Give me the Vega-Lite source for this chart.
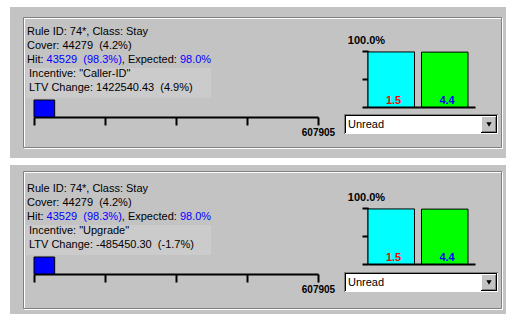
{
  "$schema": "https://vega.github.io/schema/vega-lite/v6.json",
  "background": "#ffffff",
  "padding": {"left": 10, "top": 7, "right": 0, "bottom": 0},
  "spacing": 7,
  "config": {
    "view": {"stroke": null, "fill": "#c4c3c4"},
    "text": {"font": "Liberation Sans"},
    "axis": {"grid": false, "title": null, "labelFont": "Liberation Sans", "labelColor": "#000000", "domainColor": "#000000", "tickColor": "#000000", "labelFlush": false, "labelOverlap": false, "labelBound": false}
  },
  "vconcat": [
    {
      "width": 496,
      "height": 151,
      "resolve": {"scale": {"x": "independent", "y": "independent", "color": "independent"}, "axis": {"x": "independent", "y": "independent"}},
      "layer": [
        {"data": {"values": [{}]}, "mark": {"type": "rect", "fillOpacity": 0, "stroke": "#ffffff", "strokeWidth": 1}, "encoding": {"x": {"value": 14.5}, "y": {"value": 11.5}, "x2": {"value": 492.5}, "y2": {"value": 141.5}}},
        {"data": {"values": [{}]}, "mark": {"type": "rect", "fillOpacity": 0, "stroke": "#808080", "strokeWidth": 1}, "encoding": {"x": {"value": 13.5}, "y": {"value": 10.5}, "x2": {"value": 491.5}, "y2": {"value": 140.5}}},
        {"data": {"values": [{}]}, "mark": {"type": "rect", "fill": "#cccbcc"}, "encoding": {"x": {"value": 16}, "y": {"value": 61}, "x2": {"value": 201}, "y2": {"value": 91}}},
        {
          "data": {"values": [{"line": 1, "text": "Rule ID: 74*, Class: Stay"}, {"line": 2, "text": "Cover: 44279\u00a0 (4.2%)"}, {"line": 3, "text": "Hit:"}]},
          "mark": {"type": "text", "align": "left", "baseline": "middle", "fontSize": 11, "color": "#000000"},
          "encoding": {"x": {"value": 17}, "y": {"field": "line", "type": "quantitative", "scale": {"domain": [1, 5], "range": [25, 81]}, "axis": null}, "text": {"field": "text"}}
        },
        {
          "data": {"values": [{"line": 3, "text": "43529"}]},
          "mark": {"type": "text", "align": "left", "baseline": "middle", "fontSize": 11, "color": "#0000ff"},
          "encoding": {"x": {"value": 36.6}, "y": {"field": "line", "type": "quantitative", "scale": {"domain": [1, 5], "range": [25, 81]}, "axis": null}, "text": {"field": "text"}}
        },
        {
          "data": {"values": [{"line": 3, "text": "(98.3%)"}]},
          "mark": {"type": "text", "align": "left", "baseline": "middle", "fontSize": 11, "color": "#0000ff"},
          "encoding": {"x": {"value": 73.3}, "y": {"field": "line", "type": "quantitative", "scale": {"domain": [1, 5], "range": [25, 81]}, "axis": null}, "text": {"field": "text"}}
        },
        {
          "data": {"values": [{"line": 3, "text": ", Expected:"}]},
          "mark": {"type": "text", "align": "left", "baseline": "middle", "fontSize": 11, "color": "#000000"},
          "encoding": {"x": {"value": 111.8}, "y": {"field": "line", "type": "quantitative", "scale": {"domain": [1, 5], "range": [25, 81]}, "axis": null}, "text": {"field": "text"}}
        },
        {
          "data": {"values": [{"line": 3, "text": "98.0%"}]},
          "mark": {"type": "text", "align": "left", "baseline": "middle", "fontSize": 11, "color": "#0000ff"},
          "encoding": {"x": {"value": 169.9}, "y": {"field": "line", "type": "quantitative", "scale": {"domain": [1, 5], "range": [25, 81]}, "axis": null}, "text": {"field": "text"}}
        },
        {
          "data": {"values": [{"line": 4, "text": "Incentive: \"Caller-ID\""}, {"line": 5, "text": "LTV Change: 1422540.43\u00a0 (4.9%)"}]},
          "mark": {"type": "text", "align": "left", "baseline": "middle", "fontSize": 11, "color": "#000000"},
          "encoding": {"x": {"value": 19}, "y": {"field": "line", "type": "quantitative", "scale": {"domain": [1, 5], "range": [25, 81]}, "axis": null}, "text": {"field": "text"}}
        },
        {
          "data": {"values": [{"metric": "Cover", "value": 44279}]},
          "mark": {"type": "rect", "fill": "#0000ff", "stroke": "#000000", "strokeWidth": 1},
          "encoding": {
            "x": {"field": "value", "type": "quantitative", "scale": {"domain": [0, 607905], "range": [24, 308], "nice": false, "zero": true},
              "axis": {"orient": "bottom", "offset": -41, "values": [0, 151976.25, 303952.5, 455928.75, 607905], "domainWidth": 2, "tickWidth": 2, "tickSize": 8, "labelExpr": "datum.value == 607905 ? '607905' : ''", "labelFontSize": 10, "labelFontWeight": "bold", "labelPadding": 2, "labelAlign": "center"}},
            "x2": {"datum": 0},
            "y": {"value": 93},
            "y2": {"value": 110}
          }
        },
        {
          "data": {"values": [{"series": "Hit", "pct": 98.3, "label": "1.5"}, {"series": "Expected", "pct": 98.0, "label": "4.4"}]},
          "layer": [
            {
              "mark": {"type": "bar", "stroke": "#000000", "strokeWidth": 1},
              "encoding": {
                "x": {"field": "series", "type": "nominal", "sort": ["Hit", "Expected"], "scale": {"type": "band", "domain": ["Hit", "Expected"], "range": [358, 465], "paddingInner": 0.131, "paddingOuter": 0.0654, "align": 0},
                  "axis": {"orient": "bottom", "offset": -51, "ticks": false, "labels": false, "domainWidth": 2}},
                "y": {"field": "pct", "type": "quantitative", "scale": {"domain": [0, 100], "range": [100, 44], "nice": false},
                  "axis": {"orient": "left", "offset": -358, "values": [0, 25, 50, 75, 100], "domainWidth": 2, "tickWidth": 2, "tickSize": 6, "labelExpr": "datum.value == 100 ? '100.0%' : ''", "labelFontSize": 11, "labelFontWeight": "bold", "labelAlign": "center", "labelBaseline": "middle", "labelPadding": -4, "labelOffset": -11}},
                "fill": {"field": "series", "type": "nominal", "scale": {"domain": ["Hit", "Expected"], "range": ["#00ffff", "#00ff00"]}, "legend": null}
              }
            },
            {
              "mark": {"type": "text", "baseline": "bottom", "dy": -1, "fontSize": 11, "fontWeight": "bold"},
              "encoding": {
                "x": {"field": "series", "type": "nominal", "sort": ["Hit", "Expected"], "bandPosition": 0.55},
                "y": {"datum": 0, "type": "quantitative"},
                "text": {"field": "label"},
                "color": {"condition": {"test": "datum.series == 'Hit'", "value": "#ff0000"}, "value": "#0000ff"}
              }
            }
          ]
        },
        {"data": {"values": [{}]}, "mark": {"type": "rect", "fill": "#ffffff"}, "encoding": {"x": {"value": 334}, "y": {"value": 107}, "x2": {"value": 488}, "y2": {"value": 127}}},
        {"data": {"values": [{}]}, "mark": {"type": "rule", "stroke": "#808080"}, "encoding": {"x": {"value": 334}, "x2": {"value": 488}, "y": {"value": 107.5}}},
        {"data": {"values": [{}]}, "mark": {"type": "rule", "stroke": "#808080"}, "encoding": {"x": {"value": 334.5}, "y": {"value": 107}, "y2": {"value": 127}}},
        {"data": {"values": [{}]}, "mark": {"type": "rule", "stroke": "#000000"}, "encoding": {"x": {"value": 335}, "x2": {"value": 487}, "y": {"value": 108.5}}},
        {"data": {"values": [{}]}, "mark": {"type": "rule", "stroke": "#000000"}, "encoding": {"x": {"value": 335.5}, "y": {"value": 108}, "y2": {"value": 126}}},
        {"data": {"values": [{}]}, "mark": {"type": "rect", "fill": "#c4c3c4"}, "encoding": {"x": {"value": 471}, "y": {"value": 109}, "x2": {"value": 487}, "y2": {"value": 126}}},
        {"data": {"values": [{}]}, "mark": {"type": "rule", "stroke": "#ffffff"}, "encoding": {"x": {"value": 471}, "x2": {"value": 487}, "y": {"value": 109.5}}},
        {"data": {"values": [{}]}, "mark": {"type": "rule", "stroke": "#ffffff"}, "encoding": {"x": {"value": 471.5}, "y": {"value": 109}, "y2": {"value": 126}}},
        {"data": {"values": [{}]}, "mark": {"type": "rule", "stroke": "#000000"}, "encoding": {"x": {"value": 471}, "x2": {"value": 487}, "y": {"value": 125.5}}},
        {"data": {"values": [{}]}, "mark": {"type": "rule", "stroke": "#000000"}, "encoding": {"x": {"value": 486.5}, "y": {"value": 109}, "y2": {"value": 126}}},
        {"data": {"values": [{}]}, "mark": {"type": "rule", "stroke": "#808080"}, "encoding": {"x": {"value": 472}, "x2": {"value": 486}, "y": {"value": 124.5}}},
        {"data": {"values": [{}]}, "mark": {"type": "rule", "stroke": "#808080"}, "encoding": {"x": {"value": 485.5}, "y": {"value": 110}, "y2": {"value": 125}}},
        {"data": {"values": [{}]}, "mark": {"type": "point", "shape": "triangle-down", "filled": true, "color": "#000000", "size": 28, "opacity": 1}, "encoding": {"x": {"value": 479}, "y": {"value": 117.5}}},
        {"data": {"values": [{"choice": "Unread"}]}, "mark": {"type": "text", "align": "left", "baseline": "middle", "fontSize": 11, "color": "#000000"}, "encoding": {"x": {"value": 338}, "y": {"value": 117.5}, "text": {"field": "choice"}}}
      ]
    },
    {
      "width": 496,
      "height": 149,
      "resolve": {"scale": {"x": "independent", "y": "independent", "color": "independent"}, "axis": {"x": "independent", "y": "independent"}},
      "layer": [
        {"data": {"values": [{}]}, "mark": {"type": "rect", "fillOpacity": 0, "stroke": "#ffffff", "strokeWidth": 1}, "encoding": {"x": {"value": 14.5}, "y": {"value": 7.5}, "x2": {"value": 492.5}, "y2": {"value": 144.5}}},
        {"data": {"values": [{}]}, "mark": {"type": "rect", "fillOpacity": 0, "stroke": "#808080", "strokeWidth": 1}, "encoding": {"x": {"value": 13.5}, "y": {"value": 6.5}, "x2": {"value": 491.5}, "y2": {"value": 143.5}}},
        {"data": {"values": [{}]}, "mark": {"type": "rect", "fill": "#cccbcc"}, "encoding": {"x": {"value": 16}, "y": {"value": 60}, "x2": {"value": 201}, "y2": {"value": 90}}},
        {
          "data": {"values": [{"line": 1, "text": "Rule ID: 74*, Class: Stay"}, {"line": 2, "text": "Cover: 44279\u00a0 (4.2%)"}, {"line": 3, "text": "Hit:"}]},
          "mark": {"type": "text", "align": "left", "baseline": "middle", "fontSize": 11, "color": "#000000"},
          "encoding": {"x": {"value": 17}, "y": {"field": "line", "type": "quantitative", "scale": {"domain": [1, 5], "range": [24, 80]}, "axis": null}, "text": {"field": "text"}}
        },
        {
          "data": {"values": [{"line": 3, "text": "43529"}]},
          "mark": {"type": "text", "align": "left", "baseline": "middle", "fontSize": 11, "color": "#0000ff"},
          "encoding": {"x": {"value": 36.6}, "y": {"field": "line", "type": "quantitative", "scale": {"domain": [1, 5], "range": [24, 80]}, "axis": null}, "text": {"field": "text"}}
        },
        {
          "data": {"values": [{"line": 3, "text": "(98.3%)"}]},
          "mark": {"type": "text", "align": "left", "baseline": "middle", "fontSize": 11, "color": "#0000ff"},
          "encoding": {"x": {"value": 73.3}, "y": {"field": "line", "type": "quantitative", "scale": {"domain": [1, 5], "range": [24, 80]}, "axis": null}, "text": {"field": "text"}}
        },
        {
          "data": {"values": [{"line": 3, "text": ", Expected:"}]},
          "mark": {"type": "text", "align": "left", "baseline": "middle", "fontSize": 11, "color": "#000000"},
          "encoding": {"x": {"value": 111.8}, "y": {"field": "line", "type": "quantitative", "scale": {"domain": [1, 5], "range": [24, 80]}, "axis": null}, "text": {"field": "text"}}
        },
        {
          "data": {"values": [{"line": 3, "text": "98.0%"}]},
          "mark": {"type": "text", "align": "left", "baseline": "middle", "fontSize": 11, "color": "#0000ff"},
          "encoding": {"x": {"value": 169.9}, "y": {"field": "line", "type": "quantitative", "scale": {"domain": [1, 5], "range": [24, 80]}, "axis": null}, "text": {"field": "text"}}
        },
        {
          "data": {"values": [{"line": 4, "text": "Incentive: \"Upgrade\""}, {"line": 5, "text": "LTV Change: -485450.30\u00a0 (-1.7%)"}]},
          "mark": {"type": "text", "align": "left", "baseline": "middle", "fontSize": 11, "color": "#000000"},
          "encoding": {"x": {"value": 19}, "y": {"field": "line", "type": "quantitative", "scale": {"domain": [1, 5], "range": [24, 80]}, "axis": null}, "text": {"field": "text"}}
        },
        {
          "data": {"values": [{"metric": "Cover", "value": 44279}]},
          "mark": {"type": "rect", "fill": "#0000ff", "stroke": "#000000", "strokeWidth": 1},
          "encoding": {
            "x": {"field": "value", "type": "quantitative", "scale": {"domain": [0, 607905], "range": [24, 308], "nice": false, "zero": true},
              "axis": {"orient": "bottom", "offset": -40, "values": [0, 151976.25, 303952.5, 455928.75, 607905], "domainWidth": 2, "tickWidth": 2, "tickSize": 8, "labelExpr": "datum.value == 607905 ? '607905' : ''", "labelFontSize": 10, "labelFontWeight": "bold", "labelPadding": 2, "labelAlign": "center"}},
            "x2": {"datum": 0},
            "y": {"value": 92},
            "y2": {"value": 109}
          }
        },
        {
          "data": {"values": [{"series": "Hit", "pct": 98.3, "label": "1.5"}, {"series": "Expected", "pct": 98.0, "label": "4.4"}]},
          "layer": [
            {
              "mark": {"type": "bar", "stroke": "#000000", "strokeWidth": 1},
              "encoding": {
                "x": {"field": "series", "type": "nominal", "sort": ["Hit", "Expected"], "scale": {"type": "band", "domain": ["Hit", "Expected"], "range": [358, 465], "paddingInner": 0.131, "paddingOuter": 0.0654, "align": 0},
                  "axis": {"orient": "bottom", "offset": -50, "ticks": false, "labels": false, "domainWidth": 2}},
                "y": {"field": "pct", "type": "quantitative", "scale": {"domain": [0, 100], "range": [99, 43], "nice": false},
                  "axis": {"orient": "left", "offset": -358, "values": [0, 25, 50, 75, 100], "domainWidth": 2, "tickWidth": 2, "tickSize": 6, "labelExpr": "datum.value == 100 ? '100.0%' : ''", "labelFontSize": 11, "labelFontWeight": "bold", "labelAlign": "center", "labelBaseline": "middle", "labelPadding": -4, "labelOffset": -11}},
                "fill": {"field": "series", "type": "nominal", "scale": {"domain": ["Hit", "Expected"], "range": ["#00ffff", "#00ff00"]}, "legend": null}
              }
            },
            {
              "mark": {"type": "text", "baseline": "bottom", "dy": -1, "fontSize": 11, "fontWeight": "bold"},
              "encoding": {
                "x": {"field": "series", "type": "nominal", "sort": ["Hit", "Expected"], "bandPosition": 0.55},
                "y": {"datum": 0, "type": "quantitative"},
                "text": {"field": "label"},
                "color": {"condition": {"test": "datum.series == 'Hit'", "value": "#ff0000"}, "value": "#0000ff"}
              }
            }
          ]
        },
        {"data": {"values": [{}]}, "mark": {"type": "rect", "fill": "#ffffff"}, "encoding": {"x": {"value": 334}, "y": {"value": 107}, "x2": {"value": 488}, "y2": {"value": 127}}},
        {"data": {"values": [{}]}, "mark": {"type": "rule", "stroke": "#808080"}, "encoding": {"x": {"value": 334}, "x2": {"value": 488}, "y": {"value": 107.5}}},
        {"data": {"values": [{}]}, "mark": {"type": "rule", "stroke": "#808080"}, "encoding": {"x": {"value": 334.5}, "y": {"value": 107}, "y2": {"value": 127}}},
        {"data": {"values": [{}]}, "mark": {"type": "rule", "stroke": "#000000"}, "encoding": {"x": {"value": 335}, "x2": {"value": 487}, "y": {"value": 108.5}}},
        {"data": {"values": [{}]}, "mark": {"type": "rule", "stroke": "#000000"}, "encoding": {"x": {"value": 335.5}, "y": {"value": 108}, "y2": {"value": 126}}},
        {"data": {"values": [{}]}, "mark": {"type": "rect", "fill": "#c4c3c4"}, "encoding": {"x": {"value": 471}, "y": {"value": 109}, "x2": {"value": 487}, "y2": {"value": 126}}},
        {"data": {"values": [{}]}, "mark": {"type": "rule", "stroke": "#ffffff"}, "encoding": {"x": {"value": 471}, "x2": {"value": 487}, "y": {"value": 109.5}}},
        {"data": {"values": [{}]}, "mark": {"type": "rule", "stroke": "#ffffff"}, "encoding": {"x": {"value": 471.5}, "y": {"value": 109}, "y2": {"value": 126}}},
        {"data": {"values": [{}]}, "mark": {"type": "rule", "stroke": "#000000"}, "encoding": {"x": {"value": 471}, "x2": {"value": 487}, "y": {"value": 125.5}}},
        {"data": {"values": [{}]}, "mark": {"type": "rule", "stroke": "#000000"}, "encoding": {"x": {"value": 486.5}, "y": {"value": 109}, "y2": {"value": 126}}},
        {"data": {"values": [{}]}, "mark": {"type": "rule", "stroke": "#808080"}, "encoding": {"x": {"value": 472}, "x2": {"value": 486}, "y": {"value": 124.5}}},
        {"data": {"values": [{}]}, "mark": {"type": "rule", "stroke": "#808080"}, "encoding": {"x": {"value": 485.5}, "y": {"value": 110}, "y2": {"value": 125}}},
        {"data": {"values": [{}]}, "mark": {"type": "point", "shape": "triangle-down", "filled": true, "color": "#000000", "size": 28, "opacity": 1}, "encoding": {"x": {"value": 479}, "y": {"value": 117.5}}},
        {"data": {"values": [{"choice": "Unread"}]}, "mark": {"type": "text", "align": "left", "baseline": "middle", "fontSize": 11, "color": "#000000"}, "encoding": {"x": {"value": 338}, "y": {"value": 117.5}, "text": {"field": "choice"}}}
      ]
    }
  ]
}
